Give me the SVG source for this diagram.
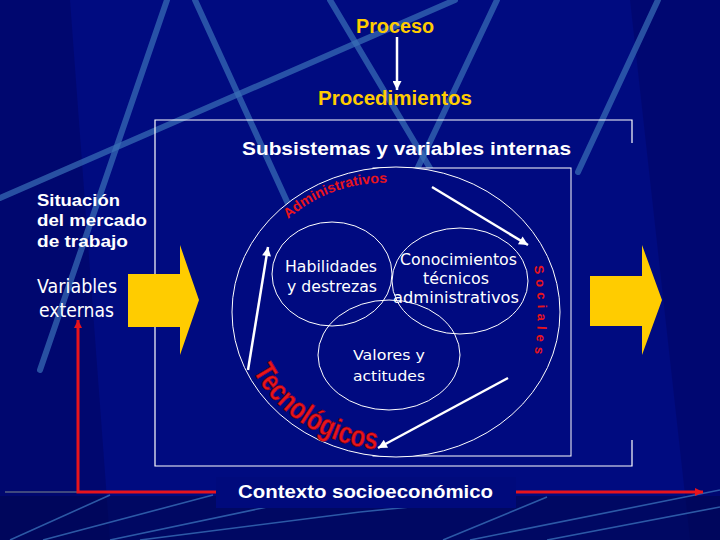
<svg xmlns="http://www.w3.org/2000/svg" width="720" height="540" viewBox="0 0 720 540">
<defs>
<style>
.t{font-family:"DejaVu Sans","Liberation Sans",sans-serif;fill:#fff}
.bt{font-family:"Liberation Sans","DejaVu Sans",sans-serif;font-weight:bold;fill:#fff}
.y{fill:#ffcc00}
.red{font-family:"Liberation Sans","DejaVu Sans",sans-serif;font-weight:bold;fill:#e8141c}
.ln{fill:#000a80;stroke:#fff;stroke-width:1}
.open{fill:none;stroke:#fff;stroke-width:1.2}
.streak{stroke:#3a70b8;stroke-width:6;stroke-linecap:round;opacity:.7}
.thin{stroke:#3f7cc4;stroke-width:1.6;opacity:.7}
.wa{stroke:#fff;stroke-width:2.5;fill:none}
.ra{stroke:#e8141c;stroke-width:3;fill:none}
.ya{fill:#ffcc00}
</style>
<marker id="wh" viewBox="0 0 10 10" refX="10" refY="5" markerWidth="11" markerHeight="9" markerUnits="userSpaceOnUse" orient="auto"><path d="M0,0 L10,5 L0,10 z" fill="#fff"/></marker>
<marker id="rh" viewBox="0 0 10 10" refX="10" refY="5" markerWidth="10" markerHeight="8" markerUnits="userSpaceOnUse" orient="auto-start-reverse"><path d="M0,0 L10,5 L0,10 z" fill="#e8141c"/></marker>
<path id="pAdm" d="M 288 219 A 140 130 0 0 1 393 183"/>
<path id="pTec" d="M 253 371 A 158 139 0 0 0 382 450"/>
<path id="pSoc" d="M 534 266 Q 541 311 534 357"/>
</defs>

<g id="background">
<rect x="0" y="0" width="720" height="540" fill="#000b80"/>
<polygon points="0,0 70,0 110,540 0,540" fill="#000050" opacity="0.35"/>
<polygon points="630,0 720,0 720,540 690,540" fill="#000050" opacity="0.3"/>
<rect x="0" y="496" width="720" height="44" fill="#000750" opacity="0.6"/>
<line class="streak" x1="167" y1="0" x2="40" y2="370"/>
<line class="streak" x1="195" y1="0" x2="300" y2="230"/>
<line class="streak" x1="0" y1="198" x2="455" y2="0"/>
<line class="streak" x1="330" y1="0" x2="440" y2="185"/>
<line class="streak" x1="497" y1="0" x2="412" y2="180"/>
<line class="streak" x1="658" y1="0" x2="578" y2="172"/>
<line class="thin" x1="10" y1="540" x2="110" y2="495"/>
<line class="thin" x1="43" y1="540" x2="213" y2="495"/>
<line class="thin" x1="110" y1="540" x2="267" y2="507"/>
<line class="thin" x1="140" y1="540" x2="360" y2="512"/>
<line class="thin" x1="360" y1="512" x2="410" y2="507"/>
<line class="thin" x1="443" y1="540" x2="547" y2="497"/>
<line class="thin" x1="470" y1="540" x2="720" y2="490"/>
<line class="thin" x1="547" y1="540" x2="720" y2="507"/>
<line x1="5" y1="492" x2="77" y2="492" stroke="#6a7488" stroke-width="2" opacity="0.6"/>
</g>

<g id="frame-outer">
<path class="open" d="M 632 143 L 632 120 L 155 120 L 155 466 L 632 466 L 632 440"/>
</g>

<g id="frame-inner">
<rect class="ln" x="373" y="168" width="198" height="288"/>
</g>

<g id="ellipse-main">
<ellipse class="ln" cx="396" cy="312" rx="164" ry="145"/>
</g>

<g id="label-administrativos">
<text class="red" font-size="14"><textPath href="#pAdm" textLength="108" lengthAdjust="spacingAndGlyphs">Administrativos</textPath></text>
</g>
<g id="label-tecnologicos">
<text class="red" font-size="30" stroke="#7a0008" stroke-width="0.6"><textPath href="#pTec" textLength="152" lengthAdjust="spacingAndGlyphs">Tecnológicos</textPath></text>
</g>
<g id="label-sociales">
<text class="red" font-size="13"><textPath href="#pSoc" textLength="88" lengthAdjust="spacing">Sociales</textPath></text>
</g>

<g id="node-habilidades">
<ellipse cx="332" cy="274" rx="60" ry="52" fill="none" stroke="#fff" stroke-width="1"/>
<text class="t" x="285" y="272" font-size="16" textLength="92" lengthAdjust="spacingAndGlyphs">Habilidades</text>
<text class="t" x="287" y="292" font-size="16" textLength="90" lengthAdjust="spacingAndGlyphs">y destrezas</text>
</g>
<g id="node-conocimientos">
<ellipse cx="460" cy="281" rx="68" ry="53" fill="none" stroke="#fff" stroke-width="1"/>
<text class="t" x="400" y="265" font-size="15.5" textLength="117" lengthAdjust="spacingAndGlyphs">Conocimientos</text>
<text class="t" x="456" y="284" font-size="15.5" text-anchor="middle" textLength="66" lengthAdjust="spacingAndGlyphs">técnicos</text>
<text class="t" x="393" y="303" font-size="15.5" textLength="126" lengthAdjust="spacingAndGlyphs">administrativos</text>
</g>
<g id="node-valores">
<ellipse cx="389" cy="355" rx="71" ry="55" fill="none" stroke="#fff" stroke-width="1"/>
<text class="t" x="353" y="360" font-size="14.5" textLength="72" lengthAdjust="spacingAndGlyphs">Valores y</text>
<text class="t" x="353" y="381" font-size="14.5" textLength="72" lengthAdjust="spacingAndGlyphs">actitudes</text>
</g>

<g id="node-proceso">
<text class="bt y" x="395" y="33" font-size="20" text-anchor="middle" textLength="78" lengthAdjust="spacingAndGlyphs">Proceso</text>
</g>
<g id="node-procedimientos">
<text class="bt y" x="395" y="105" font-size="20" text-anchor="middle" textLength="154" lengthAdjust="spacingAndGlyphs">Procedimientos</text>
</g>
<g id="node-subsistemas">
<text class="bt" x="242" y="155" font-size="19" textLength="329" lengthAdjust="spacingAndGlyphs">Subsistemas y variables internas</text>
</g>
<g id="node-situacion">
<text class="bt" x="37" y="206" font-size="17" textLength="83" lengthAdjust="spacingAndGlyphs">Situación</text>
<text class="bt" x="37" y="226" font-size="17" textLength="110" lengthAdjust="spacingAndGlyphs">del mercado</text>
<text class="bt" x="37" y="247" font-size="17" textLength="91" lengthAdjust="spacingAndGlyphs">de trabajo</text>
</g>
<g id="node-variables-externas">
<text class="t" x="37" y="293" font-size="19" textLength="80" lengthAdjust="spacingAndGlyphs">Variables</text>
<text class="t" x="39" y="317" font-size="19" textLength="75" lengthAdjust="spacingAndGlyphs">externas</text>
</g>

<g id="connectors">
<line class="wa" x1="397" y1="37" x2="397" y2="90" marker-end="url(#wh)"/>
<line class="wa" x1="432" y1="187" x2="528" y2="245" marker-end="url(#wh)"/>
<line class="wa" x1="508" y1="378" x2="378" y2="448" marker-end="url(#wh)"/>
<line class="wa" x1="248" y1="370" x2="268" y2="247" marker-end="url(#wh)"/>
<polygon class="ya" points="128,274 180,274 180,245 199,300 180,355 180,327 128,327"/>
<polygon class="ya" points="590,276 642,276 642,245 662,300 642,355 642,326 590,326"/>
<path class="ra" d="M 78 320 L 78 492 L 703 492" marker-start="url(#rh)" marker-end="url(#rh)"/>
</g>

<g id="node-contexto">
<rect x="216" y="477" width="300" height="31" fill="#000a7c"/>
<text class="bt" x="238" y="498" font-size="19" textLength="255" lengthAdjust="spacingAndGlyphs">Contexto socioeconómico</text>
</g>
</svg>
